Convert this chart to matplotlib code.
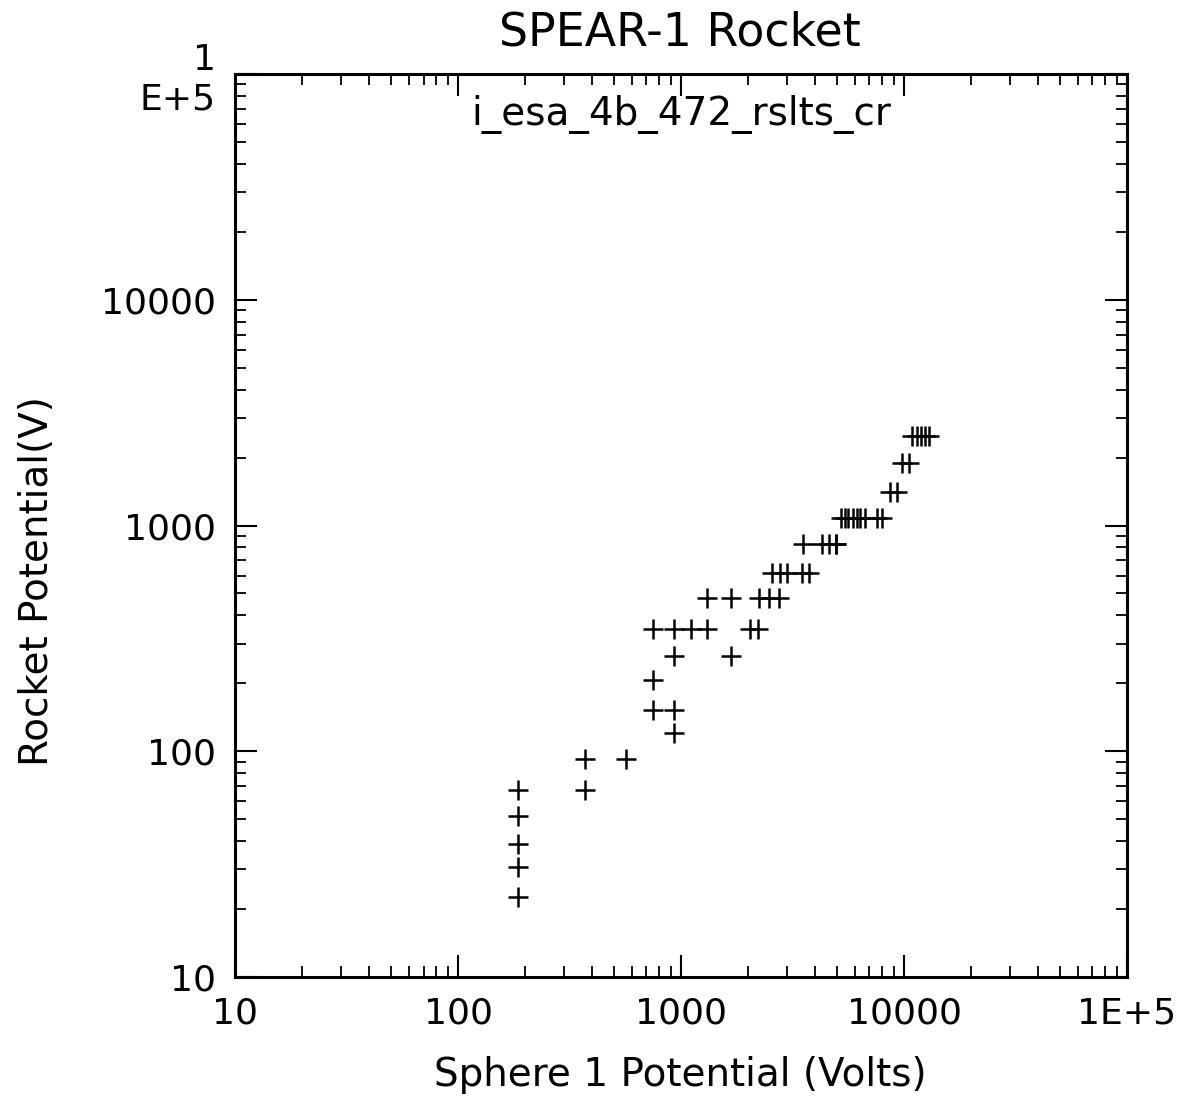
import matplotlib
matplotlib.use("Agg")
import matplotlib.pyplot as plt
from matplotlib.ticker import FixedLocator, FixedFormatter, LogLocator, NullFormatter

# Data: Sphere 1 potential (V) vs Rocket potential (V)
sphere_v = [186, 186, 186, 186, 186,
            371, 371, 565,
            930, 746, 930, 746, 930, 1676,
            746, 930, 1109, 1312, 2038, 2222,
            1308, 1676, 2238, 2481, 2751,
            2551, 2765, 2979, 3500, 3760,
            3525, 4289, 4600, 4930, 4955,
            5218, 5420, 5610, 5900, 6130, 6380, 6650, 7568, 7965,
            8650, 9303,
            9770, 10520,
            10864, 11376, 11918, 12420, 12945]
rocket_v = [22.7, 30.8, 38.8, 51.6, 67.3,
            67.3, 92.4, 92.4,
            120, 152, 152, 207, 264, 264,
            347, 347, 347, 347, 347, 347,
            477, 477, 477, 477, 477,
            618, 618, 618, 618, 618,
            825, 825, 825, 825, 825,
            1076, 1076, 1076, 1076, 1076, 1076, 1076, 1076, 1076,
            1412, 1412,
            1886, 1886,
            2492, 2492, 2492, 2492, 2492]

title = "SPEAR-1 Rocket"
subtitle = "i_esa_4b_472_rslts_cr"
xlabel = "Sphere 1 Potential (Volts)"
ylabel = "Rocket Potential(V)"
major_ticks = [10, 100, 1000, 10000, 100000]
x_tick_labels = ["10", "100", "1000", "10000", "1E+5"]
y_tick_labels = ["10", "100", "1000", "10000", "1\nE+5"]

plt.rcParams['font.family'] = ['DejaVu Sans']

fig = plt.figure(figsize=(11.95, 11.06), dpi=100)
ax = fig.add_axes([0.1967, 0.1166, 0.7464, 0.8165])

ax.plot(sphere_v, rocket_v, linestyle='none', marker='+', color='black',
        markersize=14, markeredgewidth=1.8)

ax.set_xscale('log')
ax.set_yscale('log')
ax.set_xlim(10, 1e5)
ax.set_ylim(10, 1e5)

ax.xaxis.set_major_locator(FixedLocator(major_ticks))
ax.xaxis.set_major_formatter(FixedFormatter(x_tick_labels))
ax.yaxis.set_major_locator(FixedLocator(major_ticks))
ax.yaxis.set_major_formatter(FixedFormatter(y_tick_labels))
ax.xaxis.set_minor_locator(LogLocator(base=10, subs=range(2, 10)))
ax.yaxis.set_minor_locator(LogLocator(base=10, subs=range(2, 10)))
ax.xaxis.set_minor_formatter(NullFormatter())
ax.yaxis.set_minor_formatter(NullFormatter())

ax.tick_params(which='both', direction='in', top=True, right=True, color='black')
ax.tick_params(which='major', length=16, width=1.5, labelsize=26, pad=14)
ax.tick_params(which='minor', length=8, width=1.3)
for s in ax.spines.values():
    s.set_linewidth(2.2)

fig.text(0.569, 0.028, xlabel, ha='center', va='center', fontsize=28)
fig.text(0.031, 0.475, ylabel, ha='center', va='center', rotation=90, fontsize=28)
fig.text(0.569, 0.97, title, ha='center', va='center', fontsize=33)
ax.text(0.5, 0.955, subtitle, transform=ax.transAxes, ha='center', va='center', fontsize=28)

fig.savefig("out.png", dpi=100, facecolor='white')
